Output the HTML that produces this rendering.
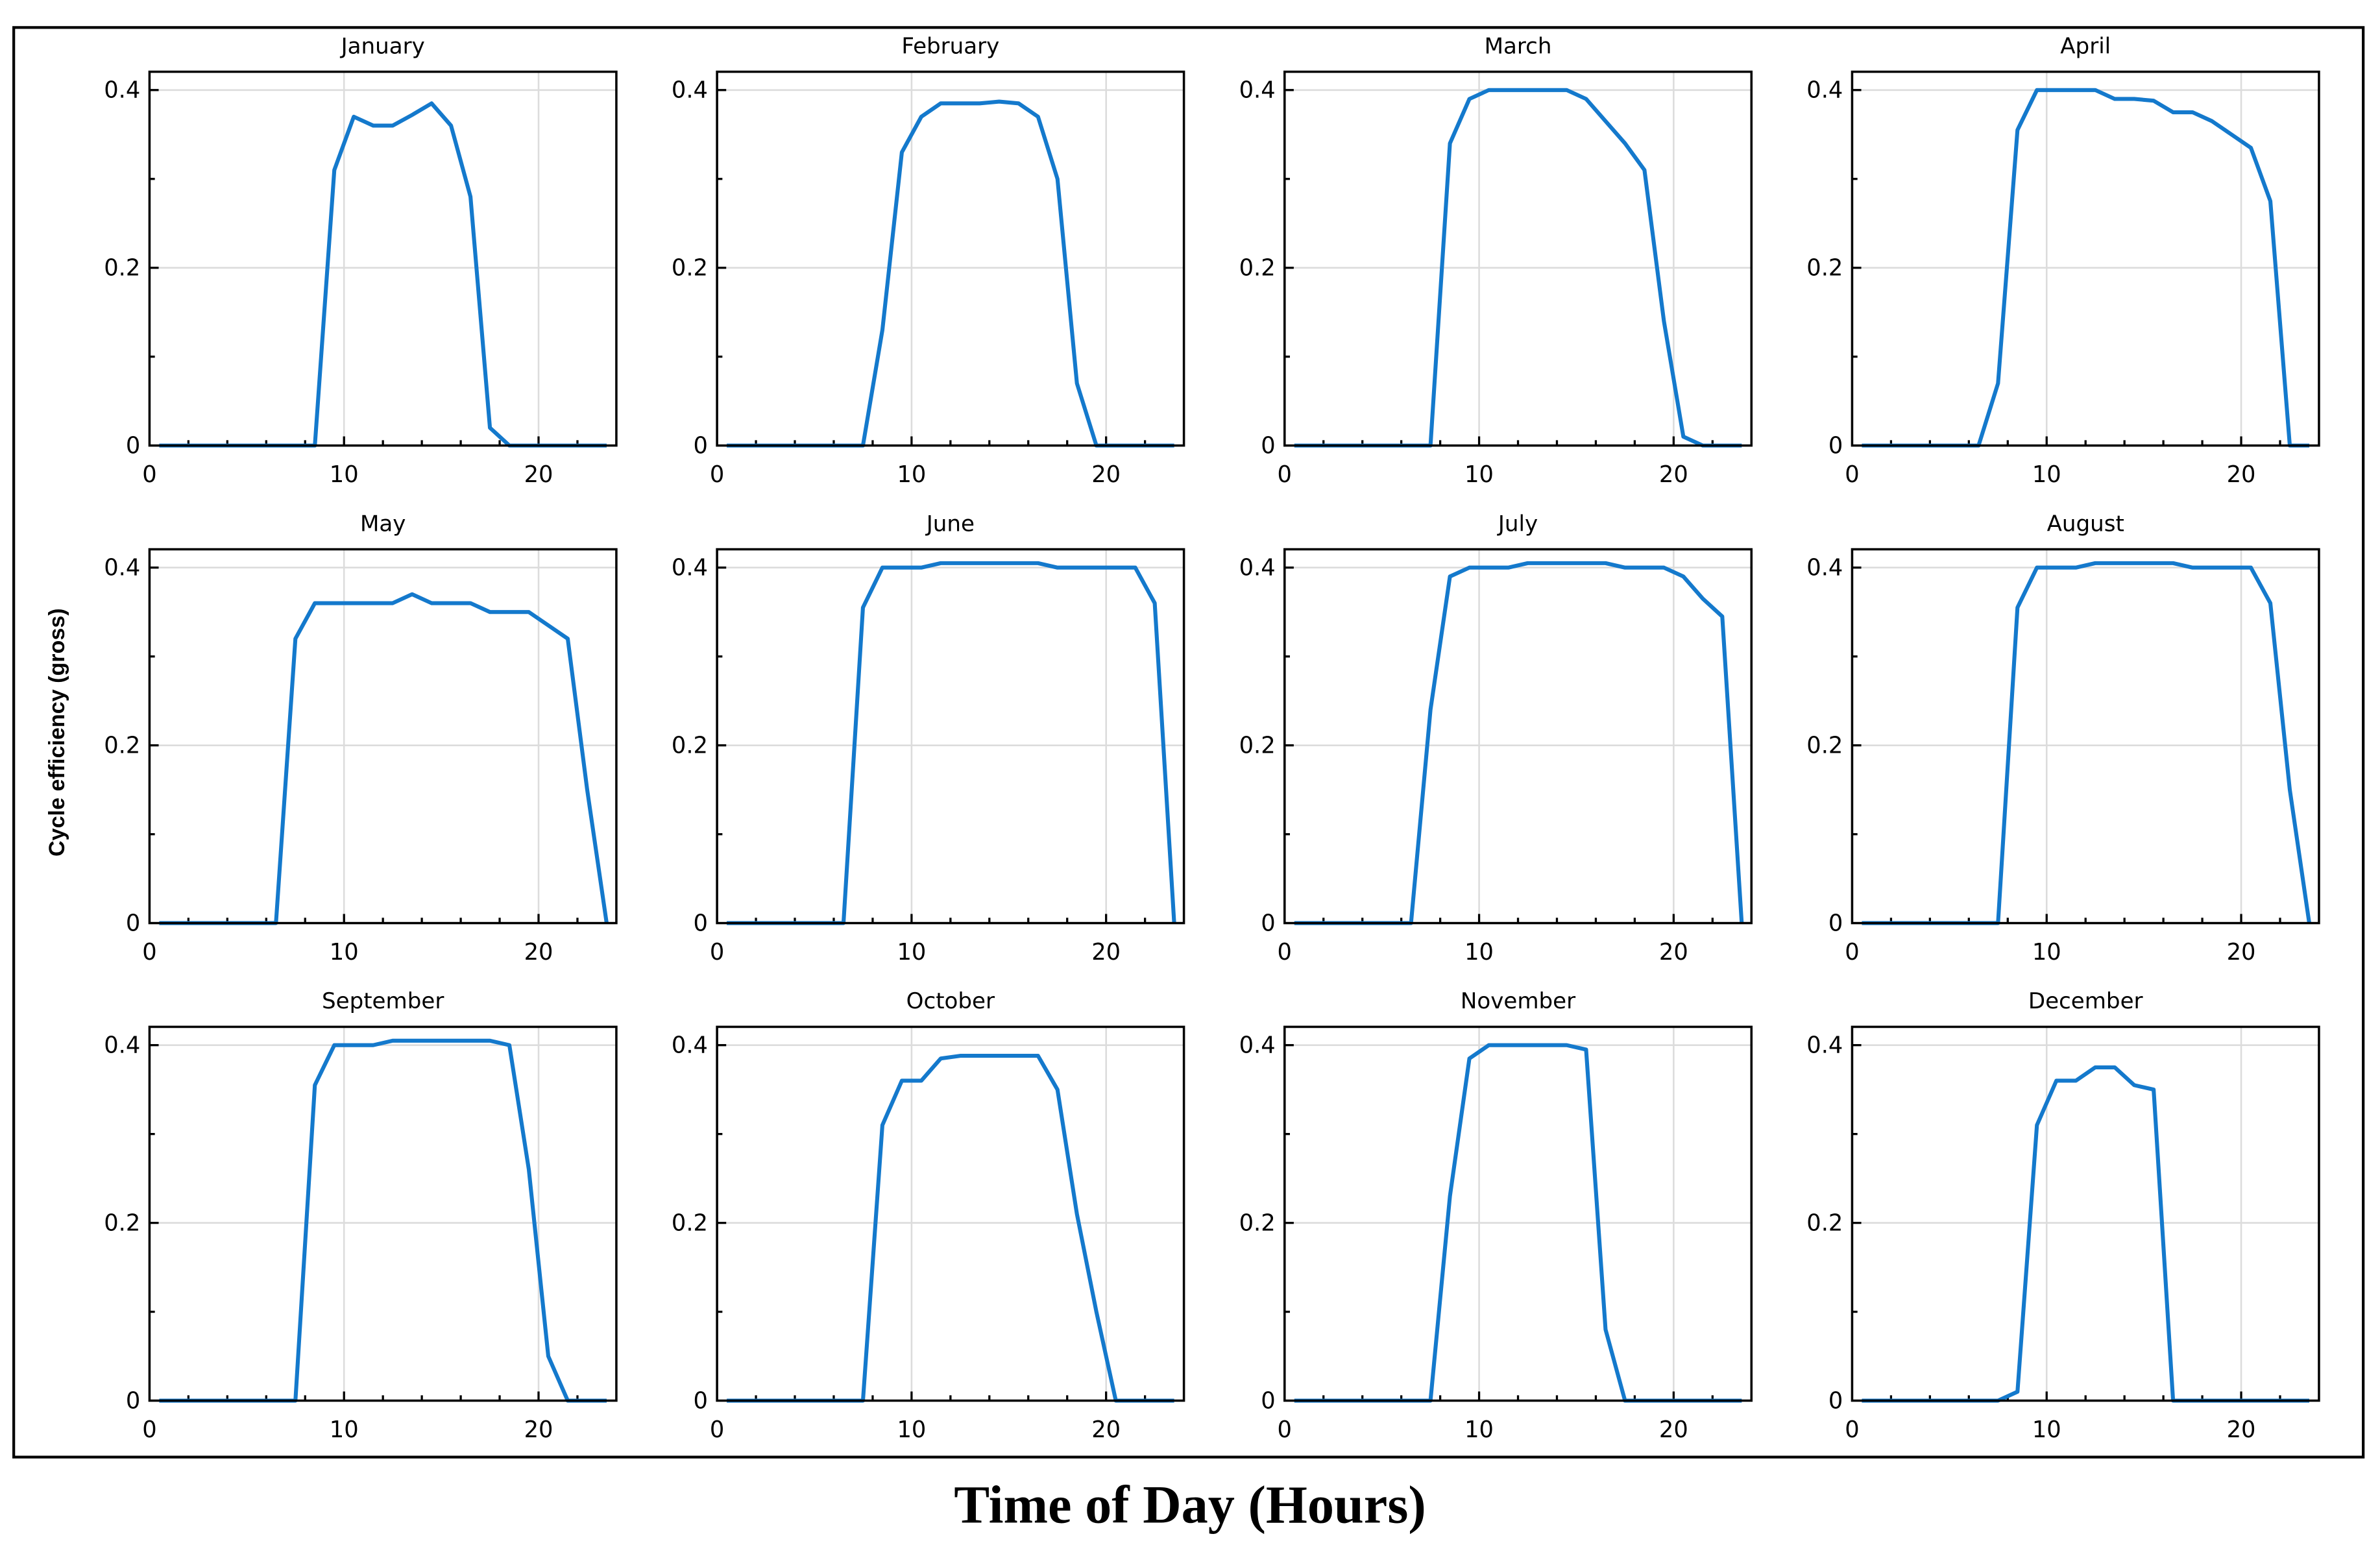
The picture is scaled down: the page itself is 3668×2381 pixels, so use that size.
<!DOCTYPE html>
<html><head><meta charset="utf-8">
<style>
html,body{margin:0;padding:0;background:#fff;}
svg{display:block;}
</style></head>
<body>
<svg id="chart" width="3668" height="2381" viewBox="0 0 1560 1012.6" xmlns="http://www.w3.org/2000/svg">
<rect x="9" y="18" width="1540" height="937" fill="none" stroke="#000" stroke-width="1.8"/>
<text transform="translate(42,480) rotate(-90)" text-anchor="middle" font-family="Liberation Sans, sans-serif" font-weight="bold" font-size="14.5">Cycle efficiency (gross)</text>
<text x="780" y="998" text-anchor="middle" font-family="Liberation Serif, serif" font-weight="bold" font-size="35">Time of Day (Hours)</text>
<g id="panels"></g>
</svg>
<script>
const months = ["January","February","March","April","May","June","July","August","September","October","November","December"];
const hours = [0.5,1.5,2.5,3.5,4.5,5.5,6.5,7.5,8.5,9.5,10.5,11.5,12.5,13.5,14.5,15.5,16.5,17.5,18.5,19.5,20.5,21.5,22.5,23.5];
const janVals = [0,0,0,0,0,0,0,0,0,0.31,0.37,0.36,0.36,0.372,0.385,0.36,0.28,0.02,0,0,0,0,0,0];
const febVals = [0,0,0,0,0,0,0,0,0.13,0.33,0.37,0.385,0.385,0.385,0.387,0.385,0.37,0.30,0.07,0,0,0,0,0];
const marVals = [0,0,0,0,0,0,0,0,0.34,0.39,0.40,0.40,0.40,0.40,0.40,0.39,0.365,0.34,0.31,0.14,0.01,0,0,0];
const aprVals = [0,0,0,0,0,0,0,0.07,0.355,0.40,0.40,0.40,0.40,0.39,0.39,0.388,0.375,0.375,0.365,0.35,0.335,0.275,0,0];
const mayVals = [0,0,0,0,0,0,0,0.32,0.36,0.36,0.36,0.36,0.36,0.37,0.36,0.36,0.36,0.35,0.35,0.35,0.335,0.32,0.15,0];
const junVals = [0,0,0,0,0,0,0,0.355,0.40,0.40,0.40,0.405,0.405,0.405,0.405,0.405,0.405,0.40,0.40,0.40,0.40,0.40,0.36,0];
const julVals = [0,0,0,0,0,0,0,0.24,0.39,0.40,0.40,0.40,0.405,0.405,0.405,0.405,0.405,0.40,0.40,0.40,0.39,0.365,0.345,0];
const augVals = [0,0,0,0,0,0,0,0,0.355,0.40,0.40,0.40,0.405,0.405,0.405,0.405,0.405,0.40,0.40,0.40,0.40,0.36,0.15,0];
const sepVals = [0,0,0,0,0,0,0,0,0.355,0.40,0.40,0.40,0.405,0.405,0.405,0.405,0.405,0.405,0.40,0.26,0.05,0,0,0];
const octVals = [0,0,0,0,0,0,0,0,0.31,0.36,0.36,0.385,0.388,0.388,0.388,0.388,0.388,0.35,0.21,0.10,0,0,0,0];
const novVals = [0,0,0,0,0,0,0,0,0.23,0.385,0.40,0.40,0.40,0.40,0.40,0.395,0.08,0,0,0,0,0,0,0];
const decVals = [0,0,0,0,0,0,0,0,0.01,0.31,0.36,0.36,0.375,0.375,0.355,0.35,0,0,0,0,0,0,0,0];
const series = [janVals,febVals,marVals,aprVals,mayVals,junVals,julVals,augVals,sepVals,octVals,novVals,decVals];
const xTicks = [0,10,20];
const yTicks = [0,0.2,0.4];
const yTickLabels = ["0","0.2","0.4"];

const NS = "http://www.w3.org/2000/svg";
const root = document.getElementById("panels");
function mk(tag, attrs, parent){const e=document.createElementNS(NS,tag);for(const k in attrs)e.setAttribute(k,attrs[k]);parent.appendChild(e);return e;}
const FONT = "DejaVu Sans, Liberation Sans, sans-serif";

months.forEach((m, i) => {
  const col = i % 4, row = Math.floor(i / 4);
  const L = 98 + col * 372, R = L + 306;
  const B = 292 + row * 313, T = B - 245;
  const xs = h => L + (h / 24) * (R - L);
  const ys = v => B - (v / 0.4) * 233;
  const g = mk("g", {}, root);
  
  
  const title = mk("text", {x:(L+R)/2, y:T-12, "text-anchor":"middle", "font-family":FONT, "font-size":"14.5", fill:"#000"}, g);
  title.textContent = m;
  
  
  [10,20].forEach(h => { const gl = mk("line",{x1:xs(h),x2:xs(h),y1:T,y2:B,stroke:"#dcdcdc","stroke-width":"1.1"},g);
      });
  [0.2,0.4].forEach(v => { const gl = mk("line",{x1:L,x2:R,y1:ys(v),y2:ys(v),stroke:"#dcdcdc","stroke-width":"1.1"},g);
      });
  for (let h = 2; h < 24; h += 2) {
    const len = (h % 10 === 0) ? 6 : 3.5;
    const t = mk("line",{x1:xs(h),x2:xs(h),y1:B,y2:B-len,stroke:"#000","stroke-width":"1.4"},g);
     
  }
  [0.1,0.2,0.3,0.4].forEach(v => {
    const len = (Math.abs(v-0.2)<1e-6||Math.abs(v-0.4)<1e-6) ? 6 : 3.5;
    const t = mk("line",{x1:L,x2:L+len,y1:ys(v),y2:ys(v),stroke:"#000","stroke-width":"1.4"},g);
     
  });
  xTicks.forEach(h => { const t = mk("text",{x:xs(h),y:B+24,"text-anchor":"middle","font-family":FONT,"font-size":"15"},g);
    t.textContent = String(h);   });
  yTicks.forEach((v,k) => { const t = mk("text",{x:L-6,y:ys(v)+5,"text-anchor":"end","font-family":FONT,"font-size":"15"},g);
    t.textContent = yTickLabels[k];   });
  const pts = hours.map((h,k) => xs(h).toFixed(2) + "," + ys(series[i][k]).toFixed(2)).join(" ");
  const pl = mk("polyline",{points:pts,fill:"none",stroke:"#1479cc","stroke-width":"2.6","stroke-linejoin":"round"},g);
  
  
  const fr = mk("rect",{x:L,y:T,width:R-L,height:B-T,fill:"none",stroke:"#000","stroke-width":"1.5"},g);
  
  
});
</script>
</body></html>
